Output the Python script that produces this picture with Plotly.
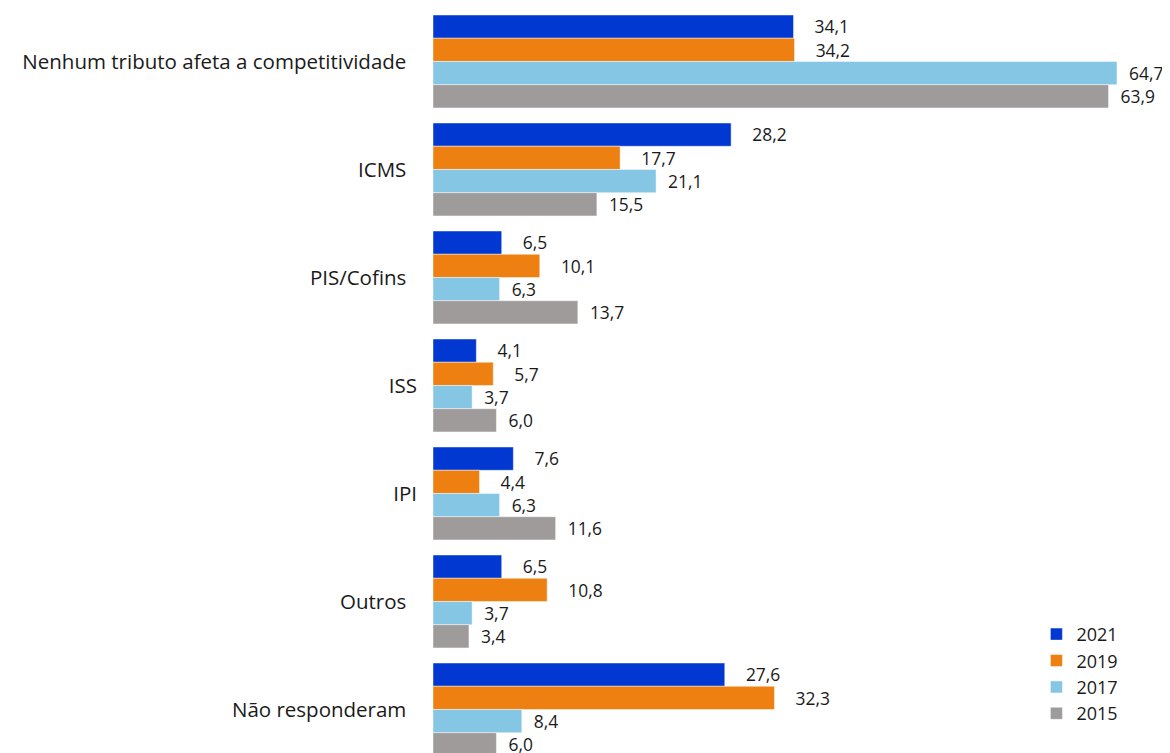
import plotly.graph_objects as go

categories = ["Nenhum tributo afeta a competitividade", "ICMS", "PIS/Cofins", "ISS", "IPI", "Outros", "Não responderam"]
years = ["2021", "2019", "2017", "2015"]
v2021 = [34.1, 28.2, 6.5, 4.1, 7.6, 6.5, 27.6]
v2019 = [34.2, 17.7, 10.1, 5.7, 4.4, 10.8, 32.3]
v2017 = [64.7, 21.1, 6.3, 3.7, 6.3, 3.7, 8.4]
v2015 = [63.9, 15.5, 13.7, 6.0, 11.6, 3.4, 6.0]
series = [v2021, v2019, v2017, v2015]
colors = ["#0038D1", "#EE8012", "#84C6E4", "#9E9B9A"]
pads = ["\u00a0\u00a0\u00a0\u00a0", "\u00a0\u00a0\u00a0\u00a0", "\u00a0\u00a0", "\u00a0\u00a0"]
# ISS and IPI labels sit slightly closer to the axis in the reference
label_suffix = ["\u00a0\u00a0", "\u00a0\u00a0", "\u00a0\u00a0", "", "", "\u00a0\u00a0", "\u00a0\u00a0"]

FONT = "Open Sans"
fig = go.Figure()
for name, vals, col, pad in zip(years, series, colors, pads):
    fig.add_trace(go.Bar(
        name=name, y=categories, x=vals, orientation="h",
        marker=dict(color=col, line=dict(color="rgba(255,255,255,0.45)", width=1)),
        text=[pad + f"{v:.1f}".replace(".", ",") for v in vals],
        textposition="outside", cliponaxis=False,
        textfont=dict(family=FONT, size=18, color="#1a1a1a"),
    ))

fig.update_layout(
    width=1162, height=745,
    margin=dict(l=425, r=10, t=0, b=0),
    barmode="group", bargap=0.14, bargroupgap=0,
    plot_bgcolor="white", paper_bgcolor="white",
    font=dict(family=FONT, size=18, color="#1a1a1a"),
    xaxis=dict(range=[0, 68.77], showgrid=False, zeroline=False, showticklabels=False, showline=False),
    yaxis=dict(type="category", range=[6.403, -0.495], showgrid=False, showline=False,
               tickmode="array", tickvals=categories,
               ticktext=[c + s for c, s in zip(categories, label_suffix)],
               ticks="", ticklabelstandoff=15, tickfont=dict(family=FONT, size=20.5, color="#1a1a1a")),
    legend=dict(x=0.830, y=0.184, xanchor="left", yanchor="top", traceorder="normal",
                font=dict(family=FONT, size=18, color="#1a1a1a"), tracegroupgap=0,
                itemwidth=30, bgcolor="rgba(0,0,0,0)"),
    showlegend=True,
)
fig.write_html("out.html")
